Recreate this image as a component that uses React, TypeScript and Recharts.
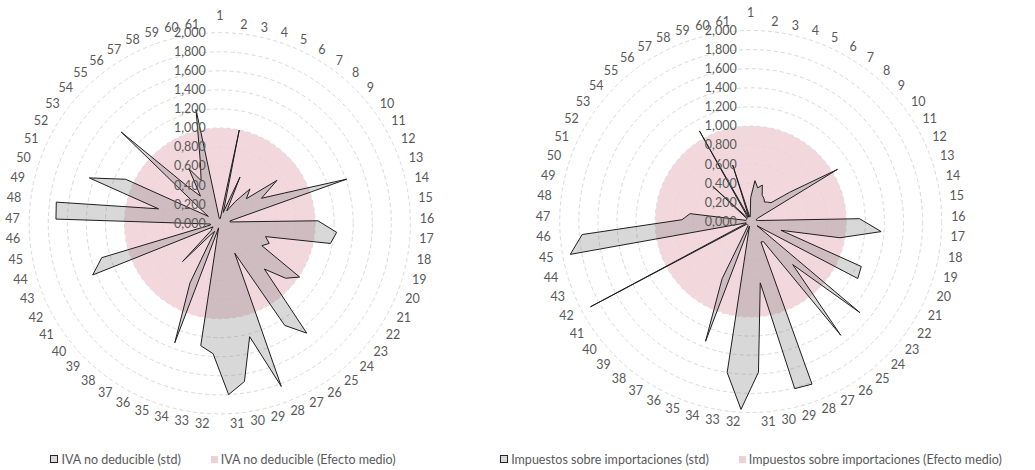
import React from "react";
import { RadarChart, Radar, PolarGrid, PolarAngleAxis, PolarRadiusAxis } from "recharts";

// categories 1..61
const CATEGORIES = Array.from({ length: 61 }, (_, i) => String(i + 1));

const IVA_STD = [
  0.05, 0.05, 1.0, 0.12, 0.53, 0.15, 0.28, 0.48, 0.38, 0.75,
  0.51, 0.75, 1.41, 0.11, 0.11, 1.03, 1.23, 1.18, 0.5, 0.56,
  0.5, 1.01, 0.9, 0.67, 1.47, 1.27, 0.35, 1.83, 1.23, 1.68,
  1.8, 1.37, 1.3, 0.05, 1.34, 0.7, 0.1, 0.15, 0.56, 0.12,
  0.1, 0.08, 1.44, 1.29, 0.1, 0.1, 1.72, 1.73, 0.66, 1.45,
  1.09, 0.14, 0.27, 1.41, 0.52, 0.35, 0.66, 0.49, 0.67, 1.22, 0.05,
];

const IMP_STD = [
  0.25, 0.43, 0.36, 0.4, 0.3, 0.28, 0.25, 0.27, 0.29, 0.51,
  1.06, 0.08, 0.06, 0.06, 0.08, 1.14, 1.37, 0.95, 0.33, 1.25,
  1.27, 0.08, 1.49, 0.63, 1.52, 0.25, 0.24, 1.82, 1.81, 0.65,
  1.58, 1.97, 1.6, 0.05, 1.34, 0.67, 0.05, 0.05, 0.05, 0.05,
  0.05, 1.9, 0.05, 0.05, 1.92, 1.77, 0.72, 0.64, 0.05, 0.05,
  0.05, 0.05, 0.05, 0.54, 0.05, 0.05, 1.09, 0.05, 0.62, 0.05, 0.05,
];

// "Efecto medio" is flat at 1
const IVA_MEDIO = CATEGORIES.map(() => 1);
const IMP_MEDIO = CATEGORIES.map(() => 1);

const RADIUS_DOMAIN: [number, number] = [0, 2];
const RADIUS_TICKS = [0, 0.2, 0.4, 0.6, 0.8, 1, 1.2, 1.4, 1.6, 1.8, 2];

const FONT = "Lato, 'Open Sans', sans-serif";
const TEXT = "#595959";
const PINK = "#f0d0d7";

const fmt = (v: number) => v.toFixed(3).replace(".", ",");

function buildRows(std: number[], medio: number[]) {
  return CATEGORIES.map((cat, i) => ({ cat, std: std[i], medio: medio[i] }));
}

const makeAngleTick = (cx: number, cy: number, r: number) => (props: any) => {
  const i = props.index ?? 0;
  const deg = 90 - (i * 360) / CATEGORIES.length;
  const a = (deg * Math.PI) / 180;
  const c = Math.cos(a);
  const s = Math.sin(a);
  const lr = r + 9.5;
  let x = cx + lr * c;
  let y = cy - lr * s;
  const anchor = Math.abs(c) < 0.02 ? "middle" : c > 0 ? "start" : "end";
  if (anchor === "middle") y = cy - (r + 17.5);
  return (
    <text x={x} y={y} dy="0.35em" textAnchor={anchor} fill={TEXT} fontSize={12.5} fontFamily={FONT}>
      {props.payload?.value}
    </text>
  );
};

const radiusTick = (props: any) => {
  const { x, y, payload } = props;
  return (
    <text x={x - 14} y={y} dy="0.35em" textAnchor="end" fill={TEXT} fontSize={12.5} fontFamily={FONT}>
      {fmt(payload.value)}
    </text>
  );
};

function Swatch({ kind }: { kind: "std" | "medio" }) {
  return (
    <span
      style={{
        display: "inline-block",
        width: kind === "std" ? 6 : 7,
        height: kind === "std" ? 6 : 7,
        background: kind === "std" ? "#d9d9d9" : PINK,
        border: kind === "std" ? "1px solid #262626" : "none",
        marginRight: 3,
      }}
    />
  );
}

function LegendRow({ center, labels }: { center: number; labels: [string, string] }) {
  return (
    <div
      style={{
        position: "absolute",
        left: center - 300,
        width: 600,
        top: 451,
        height: 16,
        display: "flex",
        justifyContent: "center",
        alignItems: "center",
        gap: 30,
        fontFamily: FONT,
        fontSize: 12.5,
        color: TEXT,
        whiteSpace: "nowrap",
      }}
    >
      <span style={{ display: "flex", alignItems: "center" }}>
        <Swatch kind="std" />
        {labels[0]}
      </span>
      <span style={{ display: "flex", alignItems: "center" }}>
        <Swatch kind="medio" />
        {labels[1]}
      </span>
    </div>
  );
}

function Panel({
  left,
  width,
  cx,
  cy,
  r,
  std,
  medio,
  names,
}: {
  left: number;
  width: number;
  cx: number;
  cy: number;
  r: number;
  std: number[];
  medio: number[];
  names: [string, string];
}) {
  const rows = buildRows(std, medio);
  return (
    <div style={{ position: "absolute", left, top: 0, width, height: 470 }}>
      <RadarChart
        width={width}
        height={470}
        data={rows}
        cx={cx}
        cy={cy}
        outerRadius={r}
        margin={{ top: 0, right: 0, bottom: 0, left: 0 }}
      >
        <PolarGrid gridType="circle" radialLines={false} stroke="#d9d9d9" strokeDasharray="4 3" />
        <PolarAngleAxis dataKey="cat" axisLine={false} tickLine={false} tick={makeAngleTick(cx, cy, r)} />
        <Radar
          name={names[1]}
          dataKey="medio"
          fill={PINK}
          fillOpacity={0.85}
          stroke="none"
          dot={false}
          isAnimationActive={false}
        />
        <Radar
          name={names[0]}
          dataKey="std"
          fill="#7f7f7f"
          fillOpacity={0.3}
          stroke="#1f1f1f"
          strokeWidth={1}
          dot={false}
          isAnimationActive={false}
        />
        <PolarRadiusAxis
          type="number"
          angle={90}
          domain={RADIUS_DOMAIN}
          ticks={RADIUS_TICKS as any}
          tickCount={11}
          allowDecimals
          axisLine={false}
          tickLine={false}
          tick={radiusTick}
        />
      </RadarChart>
    </div>
  );
}

export default function App() {
  const ivaNames: [string, string] = ["IVA no deducible (std)", "IVA no deducible (Efecto medio)"];
  const impNames: [string, string] = [
    "Impuestos sobre importaciones (std)",
    "Impuestos sobre importaciones (Efecto medio)",
  ];
  return (
    <div style={{ position: "relative", width: 1035, height: 470, background: "#fff" }}>
      <style>{`body{margin:0}`}</style>
      <Panel left={0} width={517} cx={219.8} cy={223.3} r={190.6} std={IVA_STD} medio={IVA_MEDIO} names={ivaNames} />
      <Panel left={517} width={518} cx={233.7} cy={221.5} r={191} std={IMP_STD} medio={IMP_MEDIO} names={impNames} />
      <LegendRow center={223} labels={ivaNames} />
      <LegendRow center={751} labels={impNames} />
    </div>
  );
}
